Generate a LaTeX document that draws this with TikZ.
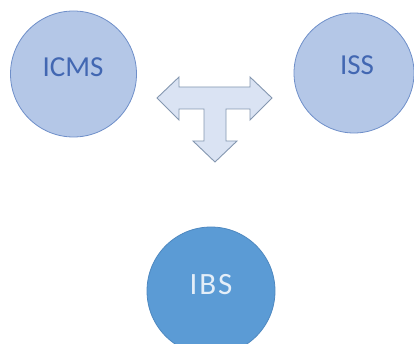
\documentclass[tikz,border=0pt]{standalone}
\usepackage{fontspec}
\setmainfont{Carlito}
\definecolor{lightfill}{HTML}{B4C7E7}
\definecolor{lightline}{HTML}{6F8FC9}
\definecolor{lighttext}{HTML}{4267B2}
\definecolor{darkfill}{HTML}{5B9BD5}
\definecolor{darkline}{HTML}{4E88C0}
\definecolor{darktext}{HTML}{E4EEF8}
\definecolor{arrowfill}{HTML}{DAE3F3}
\definecolor{arrowline}{HTML}{8497B0}
\begin{document}
\begin{tikzpicture}[x=1pt,y=-1pt,
  lightcircle/.style={circle,draw=lightline,fill=lightfill,line width=0.8pt,inner sep=0pt},
  darkcircle/.style={circle,draw=darkline,fill=darkfill,line width=0.8pt,inner sep=0pt},
  lightlabel/.style={text=lighttext,font=\fontsize{29}{31}\selectfont},
  darklabel/.style={text=darktext,font=\fontsize{31}{33}\selectfont\addfontfeatures{LetterSpace=6}},
  tarrow/.style={draw=arrowline,fill=arrowfill,line width=0.9pt,line join=miter}]
\useasboundingbox (0,0) rectangle (414,344);
\node[lightcircle,minimum size=126pt] (icms) at (73.5,74) {};
\node[lightlabel] (icmst) at (73,67) {ICMS};
\node[lightcircle,minimum size=120pt] (iss) at (354,73) {};
\node[lightlabel] (isst) at (357,65) {ISS};
\node[darkcircle,minimum size=128pt] (ibs) at (211,291) {};
\node[darklabel] (ibst) at (211,285) {IBS};
\draw[tarrow] (157,98) -- (179,77) -- (179,87) -- (250,87) -- (250,77) -- (272,98)
  -- (250,120) -- (250,109) -- (226,109) -- (226,141) -- (237,141) -- (215,162)
  -- (193,141) -- (204,141) -- (204,109) -- (179,109) -- (179,120) -- cycle;
\end{tikzpicture}
\end{document}
